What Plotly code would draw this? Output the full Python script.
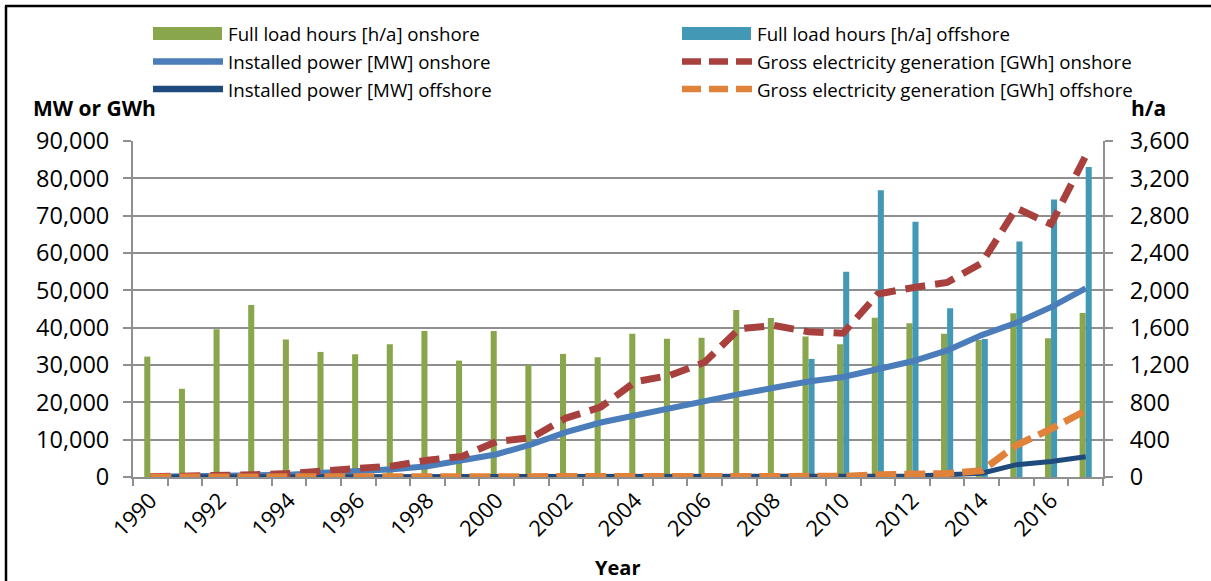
import plotly.graph_objects as go

# Wind energy in Germany, onshore vs offshore
years = ["1990", "1991", "1992", "1993", "1994", "1995", "1996", "1997", "1998", "1999",
         "2000", "2001", "2002", "2003", "2004", "2005", "2006", "2007", "2008", "2009",
         "2010", "2011", "2012", "2013", "2014", "2015", "2016", "2017"]

# Full load hours [h/a]
flh_onshore = [1290, 945, 1583, 1843, 1472, 1340, 1315, 1422, 1565, 1247,
               1565, 1201, 1319, 1283, 1536, 1482, 1493, 1789, 1704, 1505,
               1422, 1707, 1647, 1536, 1468, 1754, 1487, 1757]
flh_offshore = [None, None, None, None, None, None, None, None, None, None,
                None, None, None, None, None, None, None, None, None, 1265,
                2199, 3073, 2734, 1807, 1479, 2524, 2973, 3322]

# Installed power [MW]
power_onshore = [55, 106, 174, 326, 618, 1121, 1549, 2089, 2877, 4435,
                 6097, 8738, 12000, 14600, 16600, 18400, 20600, 22200, 23900, 25600,
                 26800, 28700, 31000, 33900, 38000, 41300, 45500, 50500]
power_offshore = [0, 0, 0, 0, 0, 0, 0, 0, 0, 0,
                  0, 0, 0, 0, 0, 0, 0, 0, 0, 35,
                  80, 188, 268, 622, 994, 3300, 4150, 5400]

# Gross electricity generation [GWh]
gen_onshore = [72, 100, 275, 600, 909, 1500, 2032, 2966, 4489, 5528,
               9513, 10509, 15786, 18713, 25509, 27229, 30710, 39713, 40574, 38900,
               38500, 49000, 50700, 52100, 57300, 72000, 67700, 86000]
gen_offshore = [0, 0, 0, 0, 0, 0, 0, 0, 0, 0,
                0, 0, 0, 0, 0, 0, 0, 0, 0, 38,
                176, 577, 732, 918, 1700, 8500, 12900, 17800]

label_years = ["1990", "1992", "1994", "1996", "1998", "2000", "2002",
               "2004", "2006", "2008", "2010", "2012", "2014", "2016"]

C_GREEN = "#8aa64c"
C_TEAL = "#4399b5"
C_BLUE = "#4a7dba"
C_RED = "#a8413e"
C_NAVY = "#1f4a7e"
C_ORANGE = "#e0823a"
C_GRID = "#8f8f8f"
FONT = "Open Sans"

W, H = 1211, 581
ML, MR, MT, MB = 133, 108, 141, 104

fig = go.Figure()

# bars on the primary (right-hand, h/a) axis, drawn beneath the lines
fig.add_trace(go.Bar(x=years, y=flh_onshore, name="Full load hours [h/a] onshore",
                     marker=dict(color=C_GREEN, line=dict(width=0)), yaxis="y"))
fig.add_trace(go.Bar(x=years, y=flh_offshore, name="Full load hours [h/a] offshore",
                     marker=dict(color=C_TEAL, line=dict(width=0)), yaxis="y"))

# lines on the overlaying (left-hand, MW or GWh) axis
fig.add_trace(go.Scatter(x=years, y=power_onshore, name="Installed power [MW] onshore",
                         mode="lines", line=dict(color=C_BLUE, width=6), yaxis="y2"))
fig.add_trace(go.Scatter(x=years, y=power_offshore, name="Installed power [MW] offshore",
                         mode="lines", line=dict(color=C_NAVY, width=5), yaxis="y2"))
fig.add_trace(go.Scatter(x=years, y=gen_onshore, name="Gross electricity generation [GWh] onshore",
                         mode="lines", line=dict(color=C_RED, width=7, dash="20px,10px"), yaxis="y2"))
fig.add_trace(go.Scatter(x=years, y=gen_offshore, name="Gross electricity generation [GWh] offshore",
                         mode="lines", line=dict(color=C_ORANGE, width=7, dash="21px,8px"), yaxis="y2"))

fig.update_layout(
    width=W, height=H,
    margin=dict(l=ML, r=MR, t=MT, b=MB),
    paper_bgcolor="white", plot_bgcolor="white",
    showlegend=False,
    barmode="group", bargap=0.65, bargroupgap=0,
    font=dict(family=FONT, color="#000000"),
    xaxis=dict(
        type="category", categoryorder="array", categoryarray=years,
        tickson="boundaries", ticks="outside", ticklen=7, tickwidth=1.5, tickcolor=C_GRID,
        tickmode="array", tickvals=years, ticktext=[y if y in label_years else "" for y in years],
        tickangle=-45, tickfont=dict(size=22, family=FONT),
        showline=True, linecolor=C_GRID, linewidth=2,
        showgrid=False, gridcolor="rgba(0,0,0,0)", zeroline=False,
    ),
    yaxis=dict(
        side="right", range=[0, 3600], dtick=400, tickformat=",",
        showgrid=True, gridcolor=C_GRID, gridwidth=1.5,
        ticks="outside", ticklen=8, tickwidth=1.5, tickcolor=C_GRID,
        showline=True, linecolor=C_GRID, linewidth=2, zeroline=False,
        tickfont=dict(size=23.5, family=FONT), ticklabelstandoff=12,
    ),
    yaxis2=dict(
        side="left", overlaying="y", range=[0, 90000], dtick=10000, tickformat=",",
        showgrid=False,
        ticks="outside", ticklen=8, tickwidth=1.5, tickcolor=C_GRID,
        showline=True, linecolor=C_GRID, linewidth=2, zeroline=False,
        tickfont=dict(size=23.5, family=FONT), ticklabelstandoff=9,
    ),
)

PW, PH = W - ML - MR, H - MT - MB


def px(xp):
    return (xp - ML) / PW


def py(yp):
    return (H - MB - yp) / PH


shapes = []
annotations = []

# outer frame (left and top edges)
shapes.append(dict(type="line", xref="paper", yref="paper", x0=px(6), x1=px(6), y0=py(6), y1=py(H + 5),
                   line=dict(color="black", width=2.5)))
shapes.append(dict(type="line", xref="paper", yref="paper", x0=px(5), x1=px(W + 5), y0=py(6), y1=py(6),
                   line=dict(color="black", width=2.5)))

# legend, two columns by three rows
legend_items = [
    ("Full load hours [h/a] onshore", "box", C_GREEN, None, 0, 0),
    ("Full load hours [h/a] offshore", "box", C_TEAL, None, 1, 0),
    ("Installed power [MW] onshore", "line", C_BLUE, "solid", 0, 1),
    ("Gross electricity generation [GWh] onshore", "line", C_RED, "19px,8px", 1, 1),
    ("Installed power [MW] offshore", "line", C_NAVY, "solid", 0, 2),
    ("Gross electricity generation [GWh] offshore", "line", C_ORANGE, "19px,8px", 1, 2),
]
col_x = [153, 682]
row_y = [33.5, 61.5, 89]
for text, kind, color, dash, c, r in legend_items:
    x0 = col_x[c]
    yc = row_y[r]
    if kind == "box":
        shapes.append(dict(type="rect", xref="paper", yref="paper",
                           x0=px(x0), x1=px(x0 + 69), y0=py(yc - 6.5), y1=py(yc + 6.5),
                           fillcolor=color, line=dict(width=0)))
    else:
        shapes.append(dict(type="line", xref="paper", yref="paper",
                           x0=px(x0), x1=px(x0 + 70), y0=py(yc), y1=py(yc),
                           line=dict(color=color, width=6.5, dash=dash)))
    annotations.append(dict(text=text, xref="paper", yref="paper", x=px(x0 + 73), y=py(yc),
                            xanchor="left", yanchor="middle", showarrow=False,
                            font=dict(size=18.7, family=FONT, color="black")))

# axis titles
annotations.append(dict(text="<b>MW or GWh</b>", xref="paper", yref="paper", x=px(31), y=py(108),
                        xanchor="left", yanchor="middle", showarrow=False,
                        font=dict(size=21, family=FONT, color="black")))
annotations.append(dict(text="<b>h/a</b>", xref="paper", yref="paper", x=px(1129), y=py(108),
                        xanchor="left", yanchor="middle", showarrow=False,
                        font=dict(size=21, family=FONT, color="black")))
annotations.append(dict(text="<b>Year</b>", xref="paper", yref="paper", x=px(617), y=py(567),
                        xanchor="center", yanchor="middle", showarrow=False,
                        font=dict(size=20, family=FONT, color="black")))

fig.update_layout(shapes=shapes, annotations=annotations)

fig.write_html("out.html")
